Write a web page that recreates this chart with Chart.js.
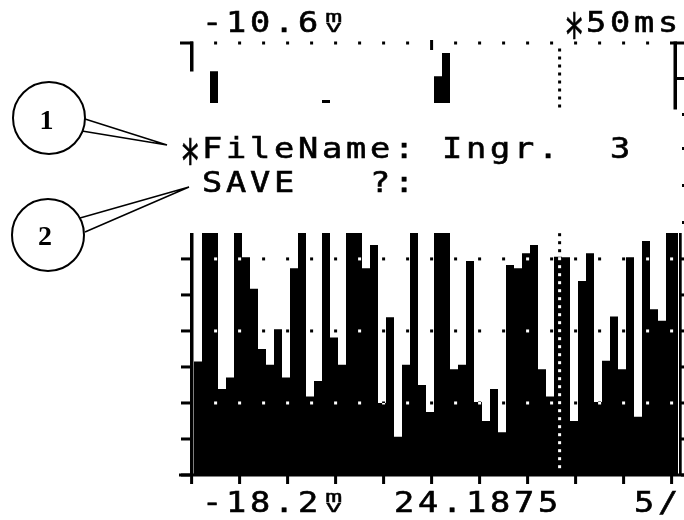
<!DOCTYPE html>
<html>
<head>
<meta charset="utf-8">
<script src="https://cdn.jsdelivr.net/npm/chart.js@4.4.0/dist/chart.umd.min.js"></script>
<style>
  html, body { margin: 0; padding: 0; background: #fff; }
  #stage { position: relative; width: 684px; height: 520px; overflow: hidden; background: #fff; }
  canvas { position: absolute; left: 0; }
  #topScope { top: 0; }
  #bottomScope { top: 120px; }
  .lcd {
    position: absolute; z-index: 2; color: #000; white-space: pre;
    font-family: "DejaVu Sans Mono", monospace; font-size: 28px; line-height: 28px;
    letter-spacing: 3.14px; transform: scaleX(1.2); transform-origin: 0 0;
    -webkit-text-stroke: 0.6px #000;
  }
  .star {
    position: absolute; z-index: 2; color: #000;
    font-family: "DejaVu Sans Mono", monospace; font-size: 40px; line-height: 40px;
    transform: scale(0.85, 1.45); transform-origin: 0 0;
    -webkit-text-stroke: 0.4px #000;
  }
  .unit {
    position: absolute; z-index: 2; color: #000;
    font-family: "DejaVu Sans Mono", monospace; font-size: 16px; line-height: 16px;
    transform: scaleX(1.8); transform-origin: 0 0;
    -webkit-text-stroke: 0.3px #000;
  }
  svg { position: absolute; left: 0; top: 0; z-index: 3; }
</style>
</head>
<body>
<div id="stage">
  <canvas id="topScope" width="684" height="120"></canvas>
  <canvas id="bottomScope" width="684" height="400"></canvas>
  <svg width="684" height="520">
    <circle cx="49" cy="118" r="36" fill="none" stroke="#000" stroke-width="2"/>
    <text x="46.5" y="129" font-family="Liberation Serif" font-weight="bold" font-size="28" text-anchor="middle">1</text>
    <polyline points="85,119 167,145 82,131" fill="none" stroke="#000" stroke-width="1.5"/>
    <circle cx="48" cy="235" r="36" fill="none" stroke="#000" stroke-width="2"/>
    <text x="45" y="245" font-family="Liberation Serif" font-weight="bold" font-size="28" text-anchor="middle">2</text>
    <polyline points="80,218 189,187 85,232" fill="none" stroke="#000" stroke-width="1.5"/>
    <rect x="682" y="113" width="2" height="3"/>
    <rect x="682" y="147" width="2" height="3"/>
    <rect x="682" y="184" width="2" height="3"/>
    <rect x="682" y="221" width="2" height="3"/>
  </svg>
</div>
<script>
// one level per 8px column of the LCD trace, c0 .. c60 (7 = off the top)
const bottomLevels = [
  3.15, 7, 7, 2.39, 2.71, 7, 6.05, 5.17, 3.5, 3.06,
  4.05, 2.71, 5.74, 7, 2.18, 2.61, 7, 3.82, 3.06, 7,
  7, 5.74, 6.39, 2.0, 4.38, 1.06, 3.06, 7, 2.5, 1.75,
  7, 7, 2.94, 3.06, 5.94, 2.03, 1.5, 2.39, 1.19, 5.83,
  5.74, 6.16, 6.39, 2.94, 2.18, 6.06, 6.05, 1.5, 5.39, 6.16,
  2.03, 3.17, 4.4, 2.94, 6.05, 1.62, 6.5, 4.6, 4.28, 7,
  7
];
const topLevels = [
  0, 0, 13.2, 0, 0, 0, 0, 0, 0, 0,
  0, 0, 0, 0, 0, 0, 1.25, 0, 0, 0,
  0, 0, 0, 0, 0, 0, 0, 0, 0, 0,
  11.1, 20.8, 0, 0, 0, 0, 0, 0, 0, 0,
  0, 0, 0, 0, 0, 0, 0, 0, 0, 0,
  0, 0, 0, 0, 0, 0, 0, 0, 0, 0,
  0
];
const levelTicks = [0, 1, 2, 3, 4, 5, 6];
const gridLevels = [2, 4, 6];
const cursorColumn = 45.7;
const triggerColumn = 29.7;
const firstTickColumn = -0.3;

// LCD text rows: [text, cell, capTop]
const topLabels = [["-10.6", 1, 12], ["*50ms", 16, 12]];
const statusLines = [["*FileName: Ingr.  3", 0, 138], [" SAVE   ?:", 0, 172]];
const bottomLabels = [["-18.2", 1, 492], ["24.1875", 9, 492], ["5/", 19, 492]];
const unitCells = [[6, 12], [6, 492]];

const stage = document.getElementById("stage");

function addDiv(cls, text, left, top) {
  const d = document.createElement("div");
  d.className = cls;
  d.textContent = text;
  d.style.left = left + "px";
  d.style.top = top + "px";
  stage.appendChild(d);
}

function lcdText(text, cell, capTop) {
  const x = 178 + 24 * cell;
  if (text[0] === "*") {
    // the LCD star fills the whole cell
    addDiv("star", "*", x + 1.8, capTop - 4.9);
    addDiv("lcd", text.slice(1), x + 24, capTop - 3.3);
  } else {
    addDiv("lcd", text, x, capTop - 3.3);
  }
}

function unitGlyph(cell, capTop) {
  // small "m" stacked over "V" in one cell
  addDiv("unit", "m", 178 + 24 * cell + 3.3, capTop + 10 - 13.5);
  addDiv("unit", "v", 178 + 24 * cell + 3.3, capTop + 20 - 13.5);
}

topLabels.concat(statusLines, bottomLabels).forEach((r) => lcdText(r[0], r[1], r[2]));
unitCells.forEach((u) => unitGlyph(u[0], u[1]));

function steps(levels) {
  const pts = levels.map((v, i) => ({ x: i, y: v }));
  pts.push({ x: levels.length, y: levels[levels.length - 1] });
  return pts;
}

function whiteBackground(chart) {
  const c = chart.ctx;
  c.save();
  c.fillStyle = "#fff";
  c.fillRect(0, 0, chart.width, chart.height);
  c.restore();
}

function dot(c, x, y) {
  c.fillRect(x - 1.5, y - 1.5, 3, 3);
}

const bottomFrame = {
  id: "bottomFrame",
  beforeDraw: whiteBackground,
  afterDraw(chart) {
    const { ctx, chartArea: a, scales: { x, y } } = chart;
    ctx.save();
    ctx.fillStyle = "#000";
    ctx.fillRect(a.left, a.top, 3.5, a.bottom - a.top);
    ctx.fillRect(a.right + 1, a.top, 2.7, a.bottom - a.top);
    ctx.fillRect(a.left - 11, a.bottom - 1.5, a.right + 6 - (a.left - 11), 3);
    levelTicks.forEach((v) => {
      const py = y.getPixelForValue(v);
      ctx.fillRect(a.left - 9, py - 1.5, 9, 3);
      ctx.fillRect(a.right + 3, py - 1.5, 3, 3);
    });
    for (let k = 0; k <= 10; k++) {
      const px = x.getPixelForValue(firstTickColumn + 6 * k);
      ctx.fillRect(px - 1.5, a.bottom, 3, 9);
    }
    // dotted grid and cursor invert whatever is under them
    ctx.globalCompositeOperation = "difference";
    ctx.fillStyle = "#fff";
    gridLevels.forEach((v) => {
      const py = y.getPixelForValue(v);
      for (let k = 1; k <= 20; k++) dot(ctx, x.getPixelForValue(firstTickColumn + 3 * k), py);
    });
    const cx = x.getPixelForValue(cursorColumn);
    for (let py = a.top + 1.7; py <= a.bottom - 7; py += 8) dot(ctx, cx, py);
    ctx.restore();
  }
};

const topFrame = {
  id: "topFrame",
  beforeDraw: whiteBackground,
  afterDraw(chart) {
    const { ctx, chartArea: a, scales: { x } } = chart;
    ctx.save();
    ctx.fillStyle = "#000";
    for (let k = 1; k <= 19; k++) {
      if (k === 10) continue;
      dot(ctx, x.getPixelForValue(firstTickColumn + 3 * k), a.top);
    }
    const tx = x.getPixelForValue(triggerColumn);
    ctx.fillRect(tx - 1.5, a.top - 3, 3, 10);
    // brackets at both ends
    ctx.fillRect(a.left - 10, a.top - 1.5, 13, 3);
    ctx.fillRect(a.left, a.top - 1.5, 3.5, 30);
    ctx.fillRect(a.right - 8, a.top - 1.5, 14, 3);
    ctx.fillRect(a.right - 4.5, a.top - 1.5, 3.5, 68);
    ctx.fillRect(a.right - 1, 77, 7, 3);
    const cx = x.getPixelForValue(cursorColumn);
    for (let py = 50; py <= 107; py += 8) dot(ctx, cx, py);
    ctx.restore();
  }
};

function scopeChart(id, levels, yMax, padding, plugin) {
  return new Chart(document.getElementById(id), {
    type: "line",
    data: {
      datasets: [{
        data: steps(levels),
        stepped: true,
        fill: "origin",
        backgroundColor: "#000",
        borderColor: "rgba(0,0,0,0)",
        borderWidth: 0,
        pointRadius: 0,
        clip: 0
      }]
    },
    options: {
      responsive: false,
      animation: false,
      events: [],
      layout: { padding: padding },
      plugins: { legend: { display: false }, tooltip: { enabled: false } },
      scales: {
        x: { type: "linear", min: -0.5, max: 60.5, display: false },
        y: { min: 0, max: yMax, display: false }
      }
    },
    plugins: [plugin]
  });
}

scopeChart("topScope", topLevels, 25, { left: 190, right: 6, top: 43, bottom: 17 }, topFrame);
scopeChart("bottomScope", bottomLevels, 6.72, { left: 190, right: 6, top: 113, bottom: 45 }, bottomFrame);
</script>
</body>
</html>
